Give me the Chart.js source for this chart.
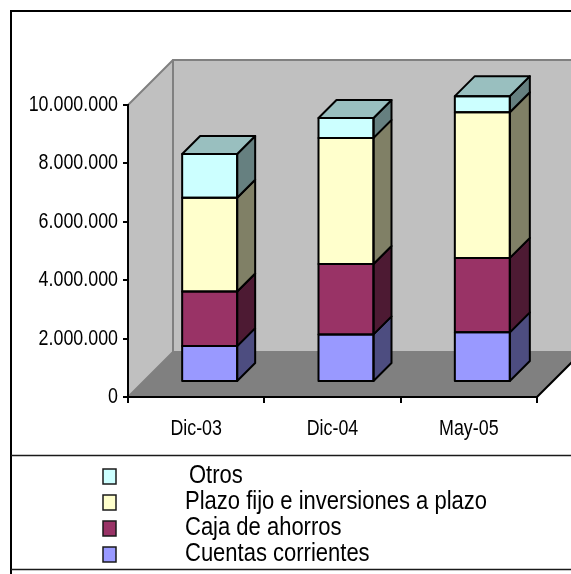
<!DOCTYPE html>
<html lang="es">
<head>
    <meta charset="UTF-8">
    <title>Depósitos</title>
    <script src="https://cdn.jsdelivr.net/npm/chart.js"></script>
    <style>
        html, body { margin: 0; padding: 0; background: #ffffff; }
        canvas { display: block; }
    </style>
</head>
<body>

<canvas id="myChart" width="571" height="574"></canvas>

<script>
// datos
const periodos = ['Dic-03', 'Dic-04', 'May-05'];
const cuentasCorrientes = [1230000, 1630000, 1700000];
const cajaAhorros = [1870000, 2410000, 2550000];
const plazoFijo = [3210000, 4320000, 4990000];
const otros = [1500000, 680000, 550000];
const etiquetasY = ['0', '2.000.000', '4.000.000', '6.000.000', '8.000.000', '10.000.000'];

const fuente = '"Liberation Sans", Arial, sans-serif';
// el texto del original esta angosto, no hay Arial Narrow instalada
const angosto = 0.83;

// profundidad del piso y de las paredes, y desplazamiento de las barras dentro del piso
const fondo = 45;
const corrX = 13.5;
const corrY = -15;
const fondoBarra = [18, 18, 20];

function poligono(ctx, puntos, relleno, borde, grosor) {
    ctx.beginPath();
    ctx.moveTo(puntos[0][0], puntos[0][1]);
    for (let i = 1; i < puntos.length; i++) {
        ctx.lineTo(puntos[i][0], puntos[i][1]);
    }
    ctx.closePath();
    if (relleno) {
        ctx.fillStyle = relleno;
        ctx.fill();
    }
    if (borde) {
        ctx.strokeStyle = borde;
        ctx.lineWidth = grosor;
        ctx.stroke();
    }
}

const paredes = {
    id: 'paredes',
    beforeInit(chart) {
        // todo el texto del grafico pasa por aca
        const ctx = chart.ctx;
        const original = ctx.fillText.bind(ctx);
        ctx.fillText = function (texto, x, y) {
            ctx.save();
            ctx.translate(x, y);
            ctx.scale(angosto, 1);
            original(texto, 0, 0);
            ctx.restore();
        };
    },
    beforeDraw(chart) {
        const ctx = chart.ctx;
        const a = chart.chartArea;
        ctx.save();
        ctx.lineJoin = 'round';
        // pared izquierda
        poligono(ctx, [[a.left, a.top], [a.left + fondo, a.top - fondo], [a.left + fondo, a.bottom - fondo], [a.left, a.bottom]], '#c0c0c0', '#808080', 2);
        // pared del fondo
        poligono(ctx, [[a.left + fondo, a.top - fondo], [a.right + fondo, a.top - fondo], [a.right + fondo, a.bottom - fondo], [a.left + fondo, a.bottom - fondo]], '#c0c0c0', '#808080', 2);
        // piso
        poligono(ctx, [[a.left, a.bottom], [a.left + fondo, a.bottom - fondo], [a.right + fondo, a.bottom - fondo], [a.right, a.bottom]], '#808080', null, 0);
        ctx.strokeStyle = '#000000';
        ctx.lineWidth = 2;
        ctx.beginPath();
        ctx.moveTo(a.right, a.bottom);
        ctx.lineTo(a.right + fondo, a.bottom - fondo);
        ctx.stroke();
        ctx.restore();
    }
};

const barras3d = {
    id: 'barras3d',
    beforeDatasetsDraw(chart) {
        chart.ctx.save();
        chart.ctx.translate(corrX, corrY);
    },
    afterDatasetsDraw(chart) {
        const ctx = chart.ctx;
        const ultimo = chart.data.datasets.length - 1;
        ctx.lineJoin = 'round';
        chart.data.datasets.forEach(function (ds, d) {
            chart.getDatasetMeta(d).data.forEach(function (barra, i) {
                const izq = barra.x - barra.width / 2;
                const der = barra.x + barra.width / 2;
                const p = fondoBarra[i];
                poligono(ctx, [[der, barra.y], [der + p, barra.y - p], [der + p, barra.base - p], [der, barra.base]], ds.colorLado, '#000000', 2);
                if (d === ultimo) {
                    poligono(ctx, [[izq, barra.y], [izq + p, barra.y - p], [der + p, barra.y - p], [der, barra.y]], ds.colorTapa, '#000000', 2);
                }
                poligono(ctx, [[izq, barra.y], [der, barra.y], [der, barra.base], [izq, barra.base]], null, '#000000', 2);
            });
        });
        ctx.restore();
    }
};

// marco y leyenda de abajo
const marcoLeyenda = {
    id: 'marcoLeyenda',
    afterDraw(chart) {
        const ctx = chart.ctx;
        ctx.save();
        ctx.strokeStyle = '#000000';
        ctx.lineWidth = 2;
        ctx.beginPath();
        ctx.moveTo(571, 11);
        ctx.lineTo(11, 11);
        ctx.lineTo(11, 574);
        ctx.stroke();
        ctx.strokeStyle = '#1a1a1a';
        ctx.lineWidth = 1.5;
        ctx.beginPath();
        ctx.moveTo(11, 455.5);
        ctx.lineTo(571, 455.5);
        ctx.moveTo(11, 569.5);
        ctx.lineTo(571, 569.5);
        ctx.stroke();

        const lista = chart.data.datasets.slice().reverse();
        ctx.font = '26.5px ' + fuente;
        ctx.textBaseline = 'middle';
        lista.forEach(function (ds, i) {
            const y = 476.5 + i * 26;
            ctx.fillStyle = ds.backgroundColor;
            ctx.strokeStyle = '#1a1a1a';
            ctx.lineWidth = 1.5;
            ctx.fillRect(103, y - 7.5, 13, 15);
            ctx.strokeRect(103, y - 7.5, 13, 15);
            ctx.fillStyle = '#000000';
            ctx.fillText(ds.label, i === 0 ? 189 : 185, y - 1);
        });
        ctx.restore();
    }
};

new Chart(document.getElementById('myChart'), {
    type: 'bar',
    data: {
        labels: periodos,
        datasets: [
            { label: 'Cuentas corrientes', data: cuentasCorrientes, backgroundColor: '#9999ff', colorLado: '#4d4d80', colorTapa: '#7373bf' },
            { label: 'Caja de ahorros', data: cajaAhorros, backgroundColor: '#993366', colorLado: '#4d1a33', colorTapa: '#73264d' },
            { label: 'Plazo fijo e inversiones a plazo', data: plazoFijo, backgroundColor: '#ffffcc', colorLado: '#808066', colorTapa: '#bfbf99' },
            { label: 'Otros', data: otros, backgroundColor: '#ccffff', colorLado: '#668080', colorTapa: '#99bfbf' }
        ]
    },
    options: {
        responsive: false,
        animation: false,
        layout: { padding: { top: 105, right: 34, bottom: 0, left: 0 } },
        datasets: { bar: { barThickness: 55, clip: false, borderWidth: 0 } },
        plugins: {
            legend: { display: false },
            tooltip: { enabled: false }
        },
        scales: {
            x: {
                stacked: true,
                afterFit: function (scale) { scale.height = 177; },
                border: { color: '#000000', width: 2 },
                grid: { drawOnChartArea: false, color: '#000000', lineWidth: 2, tickLength: 6 },
                ticks: { color: '#000000', font: { family: fuente, size: 21.5 }, padding: 13, maxRotation: 0 }
            },
            y: {
                stacked: true,
                min: 0,
                max: 10000000,
                afterFit: function (scale) { scale.width = 128; },
                border: { color: '#000000', width: 2 },
                grid: { drawOnChartArea: false, color: '#000000', lineWidth: 2, tickLength: 5 },
                ticks: {
                    stepSize: 2000000,
                    color: '#000000',
                    font: { family: fuente, size: 21.5 },
                    padding: 5,
                    callback: function (valor, i) { return etiquetasY[i]; }
                }
            }
        }
    },
    plugins: [paredes, barras3d, marcoLeyenda]
});
</script>
</body>
</html>
